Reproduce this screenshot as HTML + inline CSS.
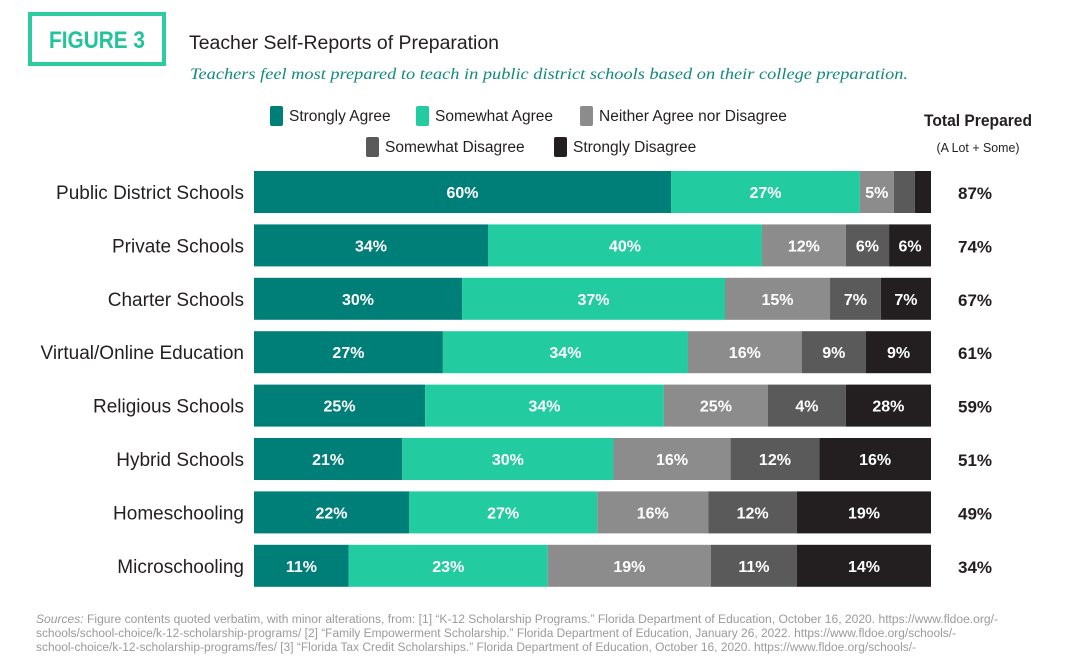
<!DOCTYPE html>
<html><head><meta charset="utf-8"><style>
body{margin:0;background:#fff;width:1066px;height:666px;overflow:hidden}
svg text{font-family:"Liberation Sans",sans-serif}
</style></head><body>
<svg width="1066" height="666" viewBox="0 0 1066 666">
<rect x="30" y="14" width="134" height="50" fill="none" stroke="#2ecba0" stroke-width="4"/>
<text x="97" y="48" text-anchor="middle" font-size="24" font-weight="bold" fill="#22c49a" textLength="96" lengthAdjust="spacingAndGlyphs">FIGURE 3</text>
<text x="189" y="49" font-size="19" fill="#231f20" textLength="310" lengthAdjust="spacingAndGlyphs">Teacher Self-Reports of Preparation</text>
<text x="190" y="79" font-size="16" font-style="italic" fill="#138a7e" style="font-family:'Liberation Serif',serif" textLength="718" lengthAdjust="spacingAndGlyphs">Teachers feel most prepared to teach in public district schools based on their college preparation.</text>
<g id="legend"></g>
<text x="978" y="126" text-anchor="middle" font-size="17" font-weight="bold" fill="#231f20" textLength="108" lengthAdjust="spacingAndGlyphs">Total Prepared</text>
<text x="978" y="152" text-anchor="middle" font-size="13" fill="#231f20" textLength="83" lengthAdjust="spacingAndGlyphs">(A Lot + Some)</text>
<g id="bars"></g>
<g fill="#9a9a9a" font-size="11.5">
<text x="36" y="623" textLength="962" lengthAdjust="spacingAndGlyphs"><tspan font-style="italic">Sources:</tspan> Figure contents quoted verbatim, with minor alterations, from: [1] “K-12 Scholarship Programs.” Florida Department of Education, October 16, 2020. https://www.fldoe.org/-</text>
<text x="36" y="637" textLength="920" lengthAdjust="spacingAndGlyphs">schools/school-choice/k-12-scholarship-programs/ [2] “Family Empowerment Scholarship.” Florida Department of Education, January 26, 2022. https://www.fldoe.org/schools/-</text>
<text x="36" y="651" textLength="880" lengthAdjust="spacingAndGlyphs">school-choice/k-12-scholarship-programs/fes/ [3] “Florida Tax Credit Scholarships.” Florida Department of Education, October 16, 2020. https://www.fldoe.org/schools/-</text>
</g>
</svg>
<script>
const categories=["Public District Schools","Private Schools","Charter Schools","Virtual/Online Education","Religious Schools","Hybrid Schools","Homeschooling","Microschooling"];
const seriesNames=["Strongly Agree","Somewhat Agree","Neither Agree nor Disagree","Somewhat Disagree","Strongly Disagree"];
const stronglyAgree=[61.6,34.6,30.7,27.9,25.3,21.9,22.9,14.0];
const somewhatAgree=[27.9,40.5,38.8,36.2,35.3,31.2,27.8,29.4];
const neither=[5.0,12.4,15.5,16.8,15.4,17.3,16.4,24.1];
const somewhatDisagree=[3.1,6.4,7.5,9.5,11.5,13.1,13.1,12.7];
const stronglyDisagree=[2.4,6.2,7.4,9.6,12.6,16.5,19.8,19.8];
const labelsSA=["60%","34%","30%","27%","25%","21%","22%","11%"];
const labelsSoA=["27%","40%","37%","34%","34%","30%","27%","23%"];
const labelsN=["5%","12%","15%","16%","25%","16%","16%","19%"];
const labelsSD=["","6%","7%","9%","4%","12%","12%","11%"];
const labelsStD=["","6%","7%","9%","28%","16%","19%","14%"];
const totals=["87%","74%","67%","61%","59%","51%","49%","34%"];
const colors=["#007f78","#22cca0","#8c8c8c","#5a5a5a","#231f20"];
const NS="http://www.w3.org/2000/svg";
const x0=254,x1=931,rowTop=171,rowStep=53.4,barH=42;
function yScale(i){return rowTop+i*rowStep;}
function xScale(frac){return x0+frac*(x1-x0);}
function mk(tag,attrs,parent){const e=document.createElementNS(NS,tag);for(const k in attrs)e.setAttribute(k,attrs[k]);parent.appendChild(e);return e;}
const series=[stronglyAgree,somewhatAgree,neither,somewhatDisagree,stronglyDisagree];
const labels=[labelsSA,labelsSoA,labelsN,labelsSD,labelsStD];
const bars=document.getElementById('bars');
categories.forEach((c,i)=>{
  const y=yScale(i);
  const t=mk('text',{x:244,y:y+barH/2+7,'text-anchor':'end','font-size':19,fill:'#231f20'},bars);
  t.textContent=c;
  
  
  const sum=series.reduce((s,a)=>s+a[i],0);
  let acc=0;
  series.forEach((arr,k)=>{
    const xa=xScale(acc/sum);acc+=arr[i];const xb=xScale(acc/sum);
    const r=mk('rect',{x:xa,y:y,width:xb-xa,height:barH,fill:colors[k]},bars);
    
    
    if(labels[k][i]){
      const lt=mk('text',{x:(xa+xb)/2,y:y+barH/2+6,'text-anchor':'middle','font-size':16,'font-weight':'bold',fill:'#fff'},bars);
      lt.textContent=labels[k][i];
      
      
    }
  });
  const tt=mk('text',{x:975,y:y+barH/2+7,'text-anchor':'middle','font-size':17,'font-weight':'bold',fill:'#231f20'},bars);
  tt.textContent=totals[i];
  
  
});
const legend=document.getElementById('legend');
const legPos=[[270,106,100],[416,106,140],[580,106,210],[366,137,160],[554,137,146]];
seriesNames.forEach((n,k)=>{
  const [lx,ly,w]=legPos[k];
  const r=mk('rect',{x:lx,y:ly,width:13,height:20,rx:2,fill:colors[k]},legend);
  
  
  const t=mk('text',{x:lx+19,y:ly+15,'font-size':15.5,fill:'#231f20'},legend);
  t.textContent=n;
  
  
});
</script>
</body></html>
